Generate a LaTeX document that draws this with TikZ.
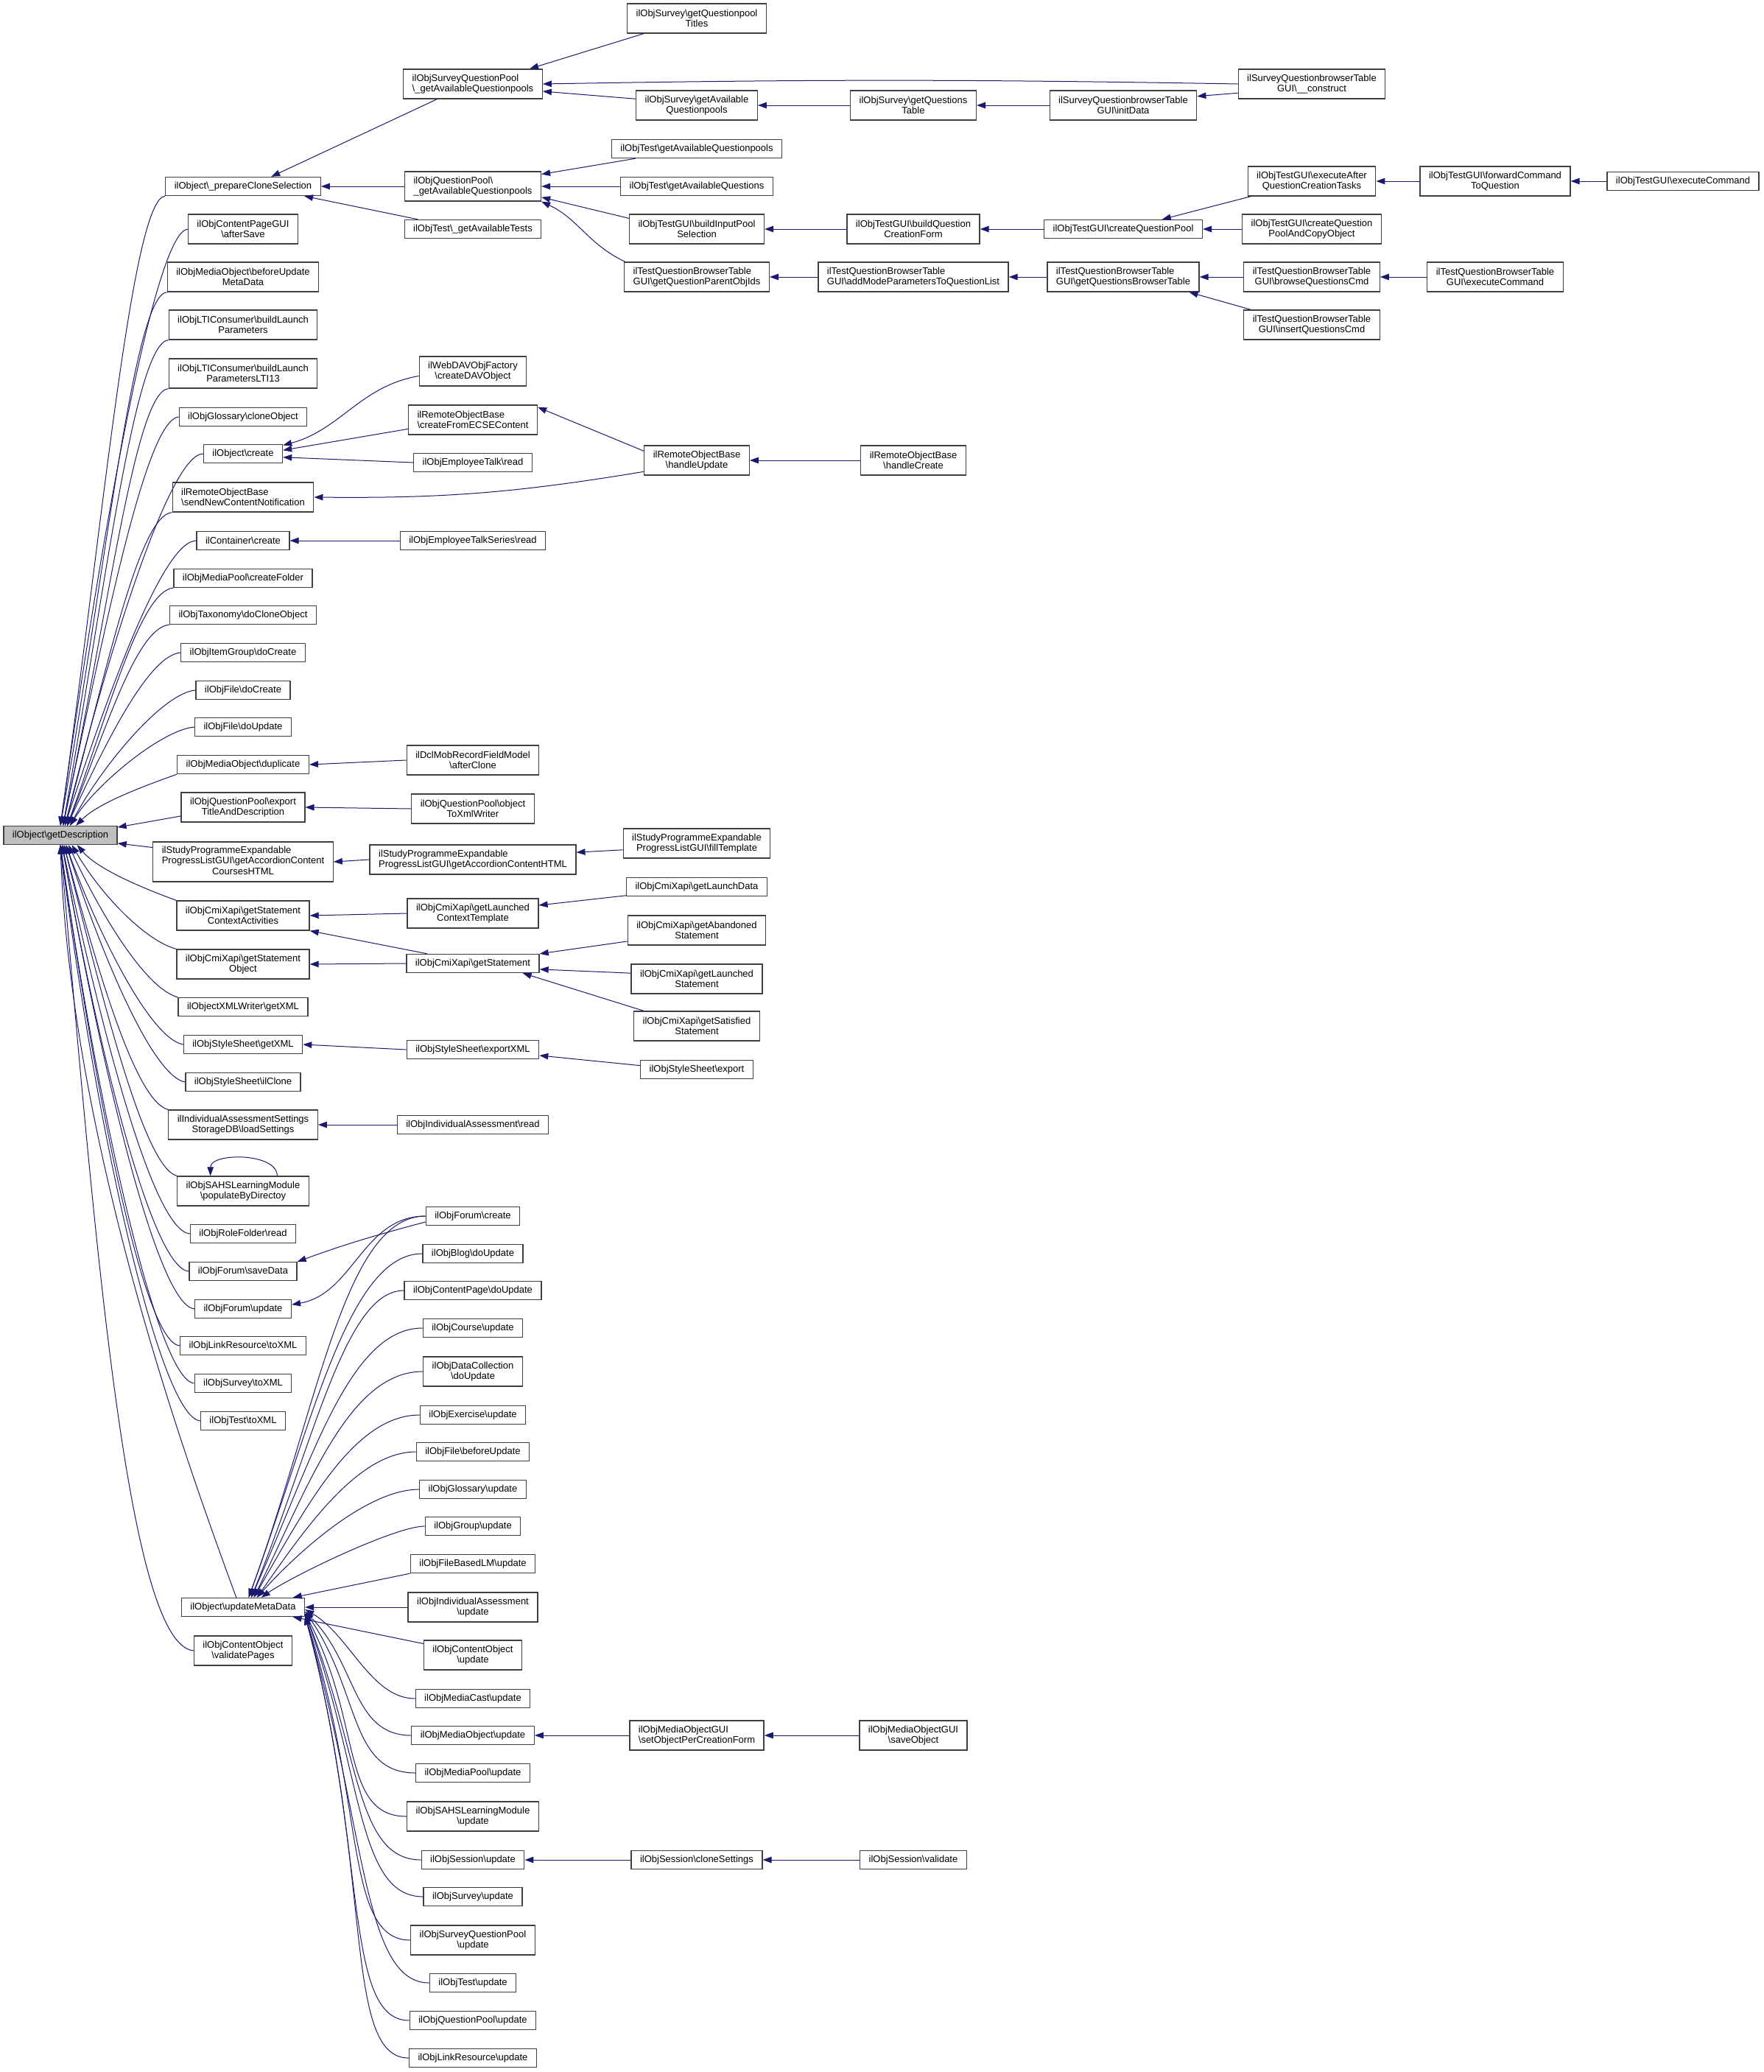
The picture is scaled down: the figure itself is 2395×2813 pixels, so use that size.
\documentclass[tikz,border=0pt]{standalone}
\usepackage{fontspec}
\setmainfont{Liberation Sans}
\usepackage{tikz}
\usetikzlibrary{arrows.meta}
\definecolor{callBlue}{RGB}{25,25,112}
\definecolor{focusGray}{RGB}{191,191,191}
\newcommand{\bks}{\textbackslash}

\begin{document}
\begin{tikzpicture}[x=1pt,y=1pt,
    fn/.style={draw=black!75,line width=1.3pt,fill=white,
               font=\fontsize{13}{14.5}\selectfont,align=center,
               inner xsep=12pt,inner ysep=4pt,minimum height=25pt},
    fn2/.style={fn,minimum height=40pt},
    fnl/.style={fn2,align=left},
    focus/.style={fn,fill=focusGray},
    call/.style={draw=callBlue,line width=1pt,
                 -{Triangle[length=12pt,width=8.5pt]}}]

  \useasboundingbox (0,0) rectangle (2395,-2813);

  % the documented function
  \node[focus] (root) at (82,-1134) {ilObject\bks getDescription};

  % direct callers
  \node[fn]  (pcs)   at (330,-253)  {ilObject\bks\_prepareCloneSelection};
  \node[fn2] (cpg)   at (330,-311)  {ilObjContentPageGUI\\\bks afterSave};
  \node[fn2] (mobu)  at (330,-376)  {ilObjMediaObject\bks beforeUpdate\\MetaData};
  \node[fn2] (lti)   at (330,-441)  {ilObjLTIConsumer\bks buildLaunch\\Parameters};
  \node[fn2] (lti13) at (330,-507)  {ilObjLTIConsumer\bks buildLaunch\\ParametersLTI13};
  \node[fn]  (glc)   at (330,-566)  {ilObjGlossary\bks cloneObject};
  \node[fn]  (ocr)   at (330,-616)  {ilObject\bks create};
  \node[fnl] (snc)   at (330,-675)  {ilRemoteObjectBase\\\bks sendNewContentNotification};
  \node[fn]  (ccr)   at (330,-734)  {ilContainer\bks create};
  \node[fn]  (mpf)   at (330,-785)  {ilObjMediaPool\bks createFolder};
  \node[fn]  (tax)   at (330,-835)  {ilObjTaxonomy\bks doCloneObject};
  \node[fn]  (igc)   at (330,-886)  {ilObjItemGroup\bks doCreate};
  \node[fn]  (fdc)   at (330,-937)  {ilObjFile\bks doCreate};
  \node[fn]  (fdu)   at (330,-987)  {ilObjFile\bks doUpdate};
  \node[fn]  (mdup)  at (330,-1038) {ilObjMediaObject\bks duplicate};
  \node[fn2] (qpe)   at (330,-1096) {ilObjQuestionPool\bks export\\TitleAndDescription};
  \node[fn,minimum height=54pt] (spc) at (330,-1170)
    {\begin{tabular}{@{}l@{}}ilStudyProgrammeExpandable\\
     ProgressListGUI\bks getAccordionContent\\
     \multicolumn{1}{@{}c@{}}{CoursesHTML}\end{tabular}};
  \node[fn2] (gsca)  at (330,-1243) {ilObjCmiXapi\bks getStatement\\ContextActivities};
  \node[fn2] (gso)   at (330,-1309) {ilObjCmiXapi\bks getStatement\\Object};
  \node[fn]  (oxw)   at (330,-1367) {ilObjectXMLWriter\bks getXML};
  \node[fn]  (ssg)   at (330,-1418) {ilObjStyleSheet\bks getXML};
  \node[fn]  (ssc)   at (330,-1469) {ilObjStyleSheet\bks ilClone};
  \node[fn2] (ials)  at (330,-1527) {ilIndividualAssessmentSettings\\StorageDB\bks loadSettings};
  \node[fn2] (sahs)  at (330,-1617) {ilObjSAHSLearningModule\\\bks populateByDirectoy};
  \node[fn]  (rfr)   at (330,-1675) {ilObjRoleFolder\bks read};
  \node[fn]  (fsd)   at (330,-1726) {ilObjForum\bks saveData};
  \node[fn]  (fup)   at (330,-1777) {ilObjForum\bks update};
  \node[fn]  (lrx)   at (330,-1827) {ilObjLinkResource\bks toXML};
  \node[fn]  (svx)   at (330,-1878) {ilObjSurvey\bks toXML};
  \node[fn]  (tsx)   at (330,-1929) {ilObjTest\bks toXML};
  \node[fn]  (umd)   at (330,-2182) {ilObject\bks updateMetaData};
  \node[fn2] (cvp)   at (330,-2241) {ilObjContentObject\\\bks validatePages};

  % second level
  \node[fnl] (sqp)  at (642,-114)  {ilObjSurveyQuestionPool\\\bks\_getAvailableQuestionpools};
  \node[fnl] (qpav) at (642,-253)  {ilObjQuestionPool\bks\\\_getAvailableQuestionpools};
  \node[fn]  (tgat) at (642,-311)  {ilObjTest\bks\_getAvailableTests};
  \node[fn2] (dav)  at (642,-504)  {ilWebDAVObjFactory\\\bks createDAVObject};
  \node[fnl] (ecs)  at (642,-570)  {ilRemoteObjectBase\\\bks createFromECSEContent};
  \node[fn]  (etr)  at (642,-628)  {ilObjEmployeeTalk\bks read};
  \node[fn]  (ets)  at (642,-734)  {ilObjEmployeeTalkSeries\bks read};
  \node[fn2] (dcl)  at (642,-1032) {ilDclMobRecordFieldModel\\\bks afterClone};
  \node[fn2] (qpx)  at (642,-1098) {ilObjQuestionPool\bks object\\ToXmlWriter};
  \node[fnl] (spa)  at (642,-1167) {ilStudyProgrammeExpandable\\ProgressListGUI\bks getAccordionContentHTML};
  \node[fn2] (glct) at (642,-1240) {ilObjCmiXapi\bks getLaunched\\ContextTemplate};
  \node[fn]  (gst)  at (642,-1308) {ilObjCmiXapi\bks getStatement};
  \node[fn]  (ssx)  at (642,-1425) {ilObjStyleSheet\bks exportXML};
  \node[fn]  (iar)  at (642,-1527) {ilObjIndividualAssessment\bks read};
  \node[fn]  (fcr)  at (642,-1651) {ilObjForum\bks create};
  \node[fn]  (blg)  at (642,-1702) {ilObjBlog\bks doUpdate};
  \node[fn]  (cpu)  at (642,-1752) {ilObjContentPage\bks doUpdate};
  \node[fn]  (cru)  at (642,-1803) {ilObjCourse\bks update};
  \node[fn2] (dcu)  at (642,-1862) {ilObjDataCollection\\\bks doUpdate};
  \node[fn]  (exu)  at (642,-1921) {ilObjExercise\bks update};
  \node[fn]  (fbu)  at (642,-1971) {ilObjFile\bks beforeUpdate};
  \node[fn]  (glu)  at (642,-2022) {ilObjGlossary\bks update};
  \node[fn]  (gru)  at (642,-2072) {ilObjGroup\bks update};
  \node[fn]  (flm)  at (642,-2123) {ilObjFileBasedLM\bks update};
  \node[fn2] (iau)  at (642,-2182) {ilObjIndividualAssessment\\\bks update};
  \node[fn2] (cou)  at (642,-2247) {ilObjContentObject\\\bks update};
  \node[fn]  (mcu)  at (642,-2306) {ilObjMediaCast\bks update};
  \node[fn]  (mou)  at (642,-2356) {ilObjMediaObject\bks update};
  \node[fn]  (mpu)  at (642,-2407) {ilObjMediaPool\bks update};
  \node[fn2] (sau)  at (642,-2466) {ilObjSAHSLearningModule\\\bks update};
  \node[fn]  (seu)  at (642,-2525) {ilObjSession\bks update};
  \node[fn]  (suu)  at (642,-2575) {ilObjSurvey\bks update};
  \node[fn2] (squ)  at (642,-2634) {ilObjSurveyQuestionPool\\\bks update};
  \node[fn]  (teu)  at (642,-2692) {ilObjTest\bks update};
  \node[fn]  (qpu)  at (642,-2743) {ilObjQuestionPool\bks update};
  \node[fn]  (lru)  at (642,-2794) {ilObjLinkResource\bks update};

  % third level
  \node[fn2] (sqt)   at (946,-25)   {ilObjSurvey\bks getQuestionpool\\Titles};
  \node[fn2] (sgaq)  at (946,-143)  {ilObjSurvey\bks getAvailable\\Questionpools};
  \node[fn]  (tgaqp) at (946,-202)  {ilObjTest\bks getAvailableQuestionpools};
  \node[fn]  (tgaq)  at (946,-253)  {ilObjTest\bks getAvailableQuestions};
  \node[fn2] (bips)  at (946,-311)  {ilObjTestGUI\bks buildInputPool\\Selection};
  \node[fnl] (gqpo)  at (946,-376)  {ilTestQuestionBrowserTable\\GUI\bks getQuestionParentObjIds};
  \node[fn2] (rhu)   at (946,-625)  {ilRemoteObjectBase\\\bks handleUpdate};
  \node[fn2] (spf)   at (946,-1145) {ilStudyProgrammeExpandable\\ProgressListGUI\bks fillTemplate};
  \node[fn]  (gld)   at (946,-1204) {ilObjCmiXapi\bks getLaunchData};
  \node[fn2] (gab)   at (946,-1263) {ilObjCmiXapi\bks getAbandoned\\Statement};
  \node[fn2] (gls)   at (946,-1329) {ilObjCmiXapi\bks getLaunched\\Statement};
  \node[fn2] (gsat)  at (946,-1393) {ilObjCmiXapi\bks getSatisfied\\Statement};
  \node[fn]  (sse)   at (946,-1452) {ilObjStyleSheet\bks export};
  \node[fnl] (mog)   at (946,-2356) {ilObjMediaObjectGUI\\\bks setObjectPerCreationForm};
  \node[fn]  (ses)   at (946,-2525) {ilObjSession\bks cloneSettings};

  % fourth level and beyond
  \node[fn2] (sgqt) at (1240,-143)  {ilObjSurvey\bks getQuestions\\Table};
  \node[fn2] (bqcf) at (1240,-311)  {ilObjTestGUI\bks buildQuestion\\CreationForm};
  \node[fnl] (amp)  at (1240,-376)  {ilTestQuestionBrowserTable\\GUI\bks addModeParametersToQuestionList};
  \node[fn2] (rhc)  at (1240,-625)  {ilRemoteObjectBase\\\bks handleCreate};
  \node[fn2] (mos)  at (1240,-2356) {ilObjMediaObjectGUI\\\bks saveObject};
  \node[fn]  (sev)  at (1240,-2525) {ilObjSession\bks validate};

  \node[fn2] (sid)  at (1525,-143) {ilSurveyQuestionbrowserTable\\GUI\bks initData};
  \node[fn]  (cqp)  at (1525,-311) {ilObjTestGUI\bks createQuestionPool};
  \node[fnl] (gqbt) at (1525,-376) {ilTestQuestionBrowserTable\\GUI\bks getQuestionsBrowserTable};

  \node[fn2] (sqc)  at (1781,-114) {ilSurveyQuestionbrowserTable\\GUI\bks\_\_construct};
  \node[fn2] (eaq)  at (1781,-246) {ilObjTestGUI\bks executeAfter\\QuestionCreationTasks};
  \node[fn2] (cqpc) at (1781,-311) {ilObjTestGUI\bks createQuestion\\PoolAndCopyObject};
  \node[fn2] (bqc)  at (1781,-376) {ilTestQuestionBrowserTable\\GUI\bks browseQuestionsCmd};
  \node[fn2] (iqc)  at (1781,-441) {ilTestQuestionBrowserTable\\GUI\bks insertQuestionsCmd};

  \node[fn2] (fcq)  at (2030,-246) {ilObjTestGUI\bks forwardCommand\\ToQuestion};
  \node[fn2] (tec)  at (2030,-376) {ilTestQuestionBrowserTable\\GUI\bks executeCommand};

  \node[fn]  (oec)  at (2285,-246) {ilObjTestGUI\bks executeCommand};

  % calls into getDescription from above
  \foreach \n/\s/\a/\o/\i/\d in {
      pcs/south west/north/185/82/420pt, cpg/west/north/185/82/400pt,
      mobu/south west/north/185/80/370pt, lti/south west/75/185/80/340pt,
      lti13/south west/75/185/78/300pt, glc/west/75/185/78/270pt,
      ocr/west/65/180/76/250pt, snc/south west/65/185/75/220pt,
      ccr/west/65/180/72/190pt, mpf/south west/55/185/70/165pt,
      tax/south west/55/185/68/140pt, igc/west/55/185/65/115pt,
      fdc/west/45/185/62/90pt, fdu/west/45/185/58/65pt,
      mdup/south west/32/200/45/45pt}
    \draw[call] (\n.\s) .. controls +(\o:45pt) and +(\i:\d) .. (root.\a);
  \draw[call] (qpe.188) -- (root.8);
  \draw[call] (spc.171) -- (root.352);

  % calls into getDescription from below
  \draw[call] (gsca.north west) .. controls +(160:40pt) and +(310:45pt) .. (root.330);
  \draw[call] (gso.north west) .. controls +(165:45pt) and +(300:75pt) .. (root.320);
  \draw[call] (oxw.north west) .. controls +(165:45pt) and +(295:105pt) .. (root.310);
  \draw[call] (ssg.west) .. controls +(170:45pt) and +(290:130pt) .. (root.300);
  \draw[call] (ssc.west) .. controls +(170:45pt) and +(288:155pt) .. (root.300);
  \draw[call] (ials.north west) .. controls +(165:45pt) and +(285:185pt) .. (root.290);
  \draw[call] (sahs.north west) .. controls +(165:45pt) and +(284:230pt) .. (root.290);
  \draw[call] (rfr.west) .. controls +(175:50pt) and +(282:260pt) .. (root.280);
  \draw[call] (fsd.west) .. controls +(175:50pt) and +(280:285pt) .. (root.280);
  \draw[call] (fup.west) .. controls +(175:50pt) and +(280:310pt) .. (root.280);
  \draw[call] (lrx.west) .. controls +(175:50pt) and +(278:335pt) .. (root.south);
  \draw[call] (svx.west) .. controls +(175:50pt) and +(278:360pt) .. (root.south);
  \draw[call] (tsx.west) .. controls +(175:55pt) and +(277:385pt) .. (root.south);
  \draw[call] (cvp.west) .. controls +(175:90pt) and +(275:540pt) .. (root.south);
  \draw[call] (umd.125) .. controls +(110:150pt) and +(272:420pt) .. (root.south);

  % calls into updateMetaData
  \foreach \n/\a/\i/\od/\d in {
      fcr/60/70/110pt/280pt, blg/60/70/100pt/255pt, cpu/50/68/80pt/230pt,
      cru/50/66/100pt/200pt, dcu/42/64/100pt/170pt, exu/42/60/90pt/140pt,
      fbu/35/55/80pt/110pt, glu/35/48/70pt/85pt, gru/28/35/40pt/50pt}
    \draw[call] (\n.west) .. controls +(180:\od) and +(\i:\d) .. (umd.\a);
  \foreach \n/\a/\i/\od/\d in {
      mcu/358/330/60pt/70pt, mou/356/315/80pt/100pt, mpu/356/305/90pt/130pt,
      sau/354/298/90pt/165pt, seu/354/292/90pt/200pt, suu/354/290/90pt/230pt,
      squ/352/288/90pt/265pt, teu/352/286/90pt/300pt, qpu/352/285/90pt/330pt,
      lru/352/285/90pt/360pt}
    \draw[call] (\n.west) .. controls +(180:\od) and +(\i:\d) .. (umd.\a);
  \draw[call] (flm.south west) -- (umd.11);
  \draw[call] (cou.167) -- (umd.349);

  % straight calls
  \foreach \f/\t in {qpav/pcs, tgaq/qpav, sgqt/sgaq, sid/sgqt, bqcf/bips, cqp/bqcf,
      cqpc/cqp, fcq/eaq, oec/fcq, amp/gqpo, gqbt/amp, bqc/gqbt, tec/bqc,
      rhc/rhu, ets/ccr, dcl/mdup, qpx/qpe, spa/spc, glct/gsca, gst/gso,
      ssx/ssg, iar/ials, iau/umd, mog/mou, mos/mog, ses/seu, sev/ses}
    \draw[call] (\f.west) -- (\t.east);

  % slanted and bent calls
  \draw[call] (sqp.203) -- (pcs.19);
  \draw[call] (tgat.170) -- (pcs.351);
  \draw[call] (sqt.196) -- (sqp.15);
  \draw[call] (sqc.west) to[bend right=1] (sqp.east);
  \draw[call] (sgaq.174) -- (sqp.354);
  \draw[call] (sqc.187) -- (sid.7);
  \draw[call] (tgaqp.189) -- (qpav.10);
  \draw[call] (bips.171) -- (qpav.351);
  \draw[call] (gqpo.168) to[out=155,in=335] (qpav.south east);
  \draw[call] (eaq.194) -- (cqp.14);
  \draw[call] (iqc.166) -- (gqbt.347);
  \draw[call] (dav.185) to[out=190,in=15] (ocr.12);
  \draw[call] (ecs.188) -- (ocr.5);
  \draw[call] (etr.west) -- (ocr.355);
  \draw[call] (rhu.170) -- (ecs.11);
  \draw[call] (rhu.192) to[bend left=5] (snc.east);
  \draw[call] (spf.185) -- (spa.4);
  \draw[call] (gst.168) -- (gsca.south east);
  \draw[call] (gld.187) -- (glct.7);
  \draw[call] (gab.189) -- (gst.north east);
  \draw[call] (gls.175) -- (gst.355);
  \draw[call] (gsat.164) -- (gst.349);
  \draw[call] (sse.176) -- (ssx.355);
  \draw[call] (sahs.24) to[out=90,in=90,looseness=0.9] (sahs.155);
  \draw[call] (fcr.187) to[out=195,in=20] (fsd.north east);
  \draw[call] (fcr.west) to[out=180,in=10] (fup.5);
\end{tikzpicture}
\end{document}
